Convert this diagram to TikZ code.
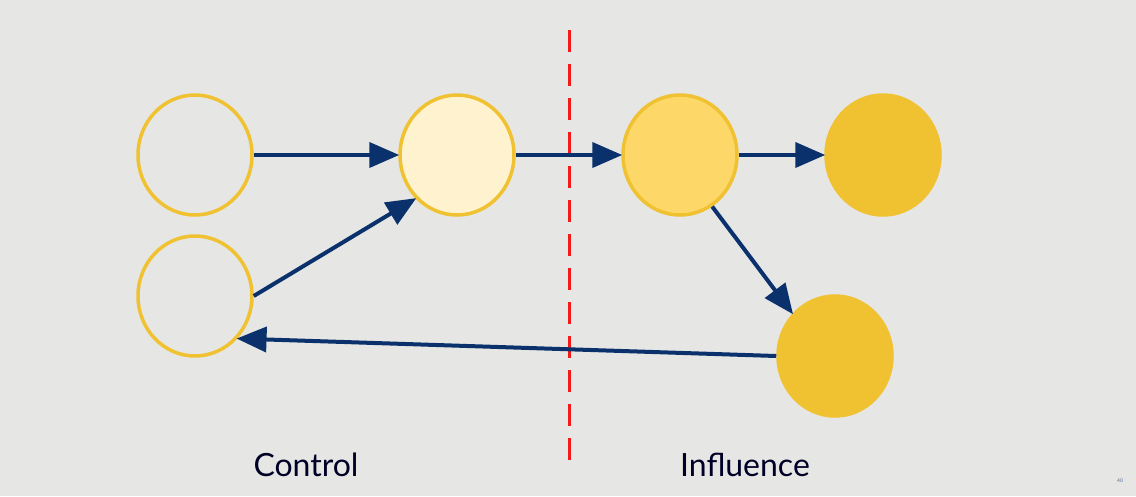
\documentclass[tikz,border=0pt]{standalone}
\usepackage{fontspec}
\setmainfont{Lato}
\usetikzlibrary{arrows.meta,shapes.geometric}
\definecolor{bg}{HTML}{E6E6E4}
\definecolor{gold}{HTML}{F0C232}
\definecolor{cream}{HTML}{FFF2CE}
\definecolor{lightgold}{HTML}{FDD868}
\definecolor{navy}{HTML}{0A316C}
\definecolor{dashred}{HTML}{F51A1A}
\tikzset{
  circ/.style={ellipse, draw=gold, line width=3.5pt, minimum width=114pt, minimum height=120pt, inner sep=0pt},
  conn/.style={draw=navy, line width=4pt, -{Triangle[length=30pt,width=25pt]}, shorten >=-1pt},
  lbl/.style={font=\fontsize{32}{36}\selectfont, text=black!85!blue}
}
\begin{document}
\begin{tikzpicture}[x=1pt,y=-1pt]
\useasboundingbox (0,0) rectangle (1136,496);
\fill[bg] (0,0) rectangle (1136,496);
\node[circ] (a) at (195,155) {};
\node[circ] (b) at (195,296) {};
\node[circ, fill=cream] (c) at (457,155) {};
\node[circ, fill=lightgold] (d) at (680,155) {};
\node[circ, fill=gold] (e) at (883,155) {};
\node[circ, fill=gold] (f) at (835,356) {};
\coordinate (top) at (569,30);
\coordinate (bot) at (569,468);
\draw[dashred, line width=3pt, dash pattern=on 22pt off 12pt] (top) -- (bot);
\draw[conn] (a.east) -- (c.west);
\draw[conn] (b.east) -- (c.south west);
\draw[conn] (c.east) -- (d.west);
\draw[conn] (d.east) -- (e.west);
\draw[conn] (d.-58) -- (f.135);
\draw[conn] (f.west) -- (b.-45);
\node[lbl] (ctl) at (306,465) {Control};
\node[lbl] (inf) at (745,465) {Influence};
\node[font=\fontsize{5}{6}\selectfont, text=navy!70] (pg) at (1120,481) {40};
\end{tikzpicture}
\end{document}
